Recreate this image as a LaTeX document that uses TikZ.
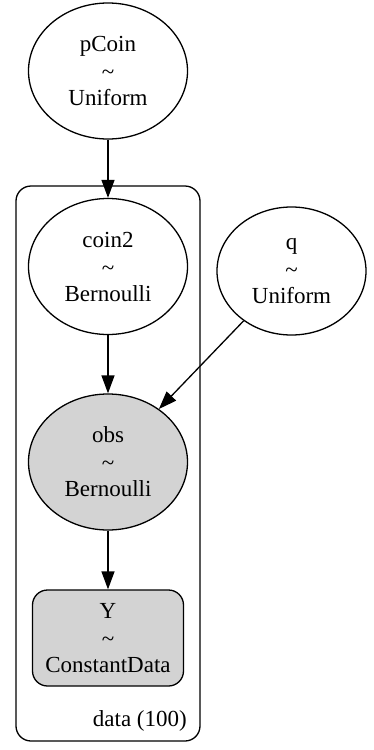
\documentclass[tikz,border=0pt]{standalone}
\usepackage{fontspec}
\setmainfont{Liberation Serif}
\usetikzlibrary{shapes.geometric,arrows.meta}
\newcommand{\tl}{\raisebox{-1pt}{\textasciitilde}}
\begin{document}
\begin{tikzpicture}[x=1pt,y=-1pt,
  every node/.style={font=\fontsize{23}{27}\selectfont, align=center, inner sep=0pt},
  rv/.style={ellipse, draw, line width=1.3pt, minimum width=159pt, minimum height=136pt},
  obsv/.style={rv, fill=lightgrayc},
  databox/.style={draw, line width=1.3pt, rounded corners=15pt, fill=lightgrayc, minimum width=151pt, minimum height=96pt},
  platebox/.style={draw, line width=1.3pt, rounded corners=15pt, minimum width=184pt, minimum height=555pt},
  arr/.style={line width=1.3pt, -{Triangle[length=18pt,width=13pt]}}
]
\definecolor{lightgrayc}{HTML}{D3D3D3}
\useasboundingbox (0,0) rectangle (374,750);
\node[platebox] (plate) at (108,463.5) {};
\node[anchor=east] (platelabel) at (187,721) {data (100)};
\node[rv] (pCoin) at (108,71) {pCoin\\\tl\\Uniform};
\node[rv] (coin2) at (108,266.5) {coin2\\\tl\\Bernoulli};
\node[rv, minimum width=149pt, minimum height=128pt] (q) at (291.5,271) {q\\\tl\\Uniform};
\node[obsv] (obs) at (108,462) {obs\\\tl\\Bernoulli};
\node[databox] (Y) at (108,638) {Y\\\tl\\ConstantData};
\draw[arr] (pCoin) -- (coin2);
\draw[arr] (coin2) -- (obs);
\draw[arr] (q) -- (obs);
\draw[arr] (obs) -- (Y);
\end{tikzpicture}
\end{document}
